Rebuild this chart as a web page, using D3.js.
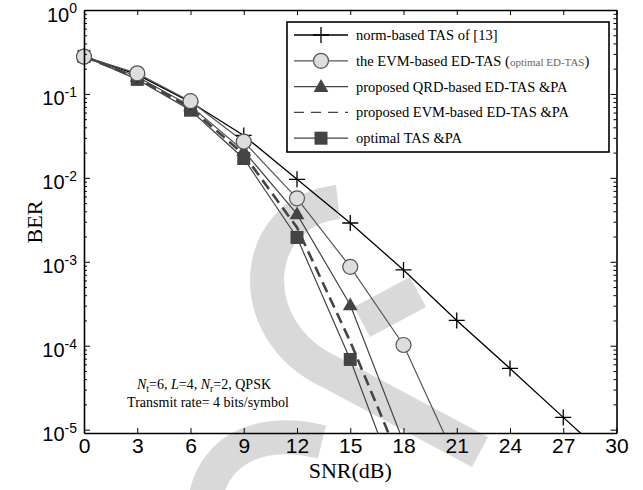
<!DOCTYPE html>
<html>
<head>
<meta charset="utf-8">
<script src="https://cdn.jsdelivr.net/npm/d3@7"></script>
<style>
  body { margin: 0; background: #fff; }
  svg { font-family: "Liberation Serif", "Times New Roman", serif; }
</style>
</head>
<body>
<div id="chart"></div>
<script>
const width = 643;
const height = 490;
const margin = {top: 10, right: 26.5, bottom: 57, left: 84};

// data
const snr = [0, 3, 6, 9, 12, 15, 18, 21, 24, 27, 30];
const normTAS = [0.28, 0.17, 0.08, 0.032, 0.0096, 0.0029, 0.0008, 0.0002, 0.0000536, 0.000014, 0.0000037];
const evmTAS = [0.278, 0.176, 0.082, 0.027, 0.0057, 0.00087, 0.000102, 0.0000042];
const qrdPA = [0.28, 0.16, 0.072, 0.021, 0.0037, 0.000305, 0.0000071];
const evmPA = [0.28, 0.155, 0.068, 0.019, 0.00256, 0.000112, 0.0000034];
const optPA = [0.28, 0.149, 0.064, 0.017, 0.00195, 0.0000686, 0.0000014];
const xTicks = [0, 3, 6, 9, 12, 15, 18, 21, 24, 27, 30];
const yTicks = [1, 1e-1, 1e-2, 1e-3, 1e-4, 1e-5];
const yExp = [0, -1, -2, -3, -4, -5];
const legendLabels = ["norm-based TAS of [13]", "the EVM-based ED-TAS ", "proposed QRD-based ED-TAS &PA",
  "proposed EVM-based ED-TAS &PA", "optimal TAS &PA"];

const svg = d3.select("#chart").append("svg")
  .attr("width", width)
  .attr("height", height);

const x = d3.scaleLinear().domain([0, 30]).range([margin.left, width - margin.right]);
const y = d3.scaleLog().domain([Math.pow(10, -5.04), 1]).range([height - margin.bottom, margin.top]);

// watermark
const wm = svg.append("g").attr("fill", "none").attr("stroke", "#d9d9d9").attr("stroke-width", 34);
wm.append("path").attr("d", "M338,202 C250,212 240,330 330,372 L480,452");
wm.append("path").attr("d", "M362,322 L418,292");
wm.append("path").attr("d", "M205,500 C215,445 265,428 322,442");

const plot = svg.append("g");
plot.append("clipPath").attr("id", "clip")
  .append("rect")
  .attr("x", margin.left).attr("y", margin.top)
  .attr("width", width - margin.left - margin.right)
  .attr("height", height - margin.top - margin.bottom);

// axes
const minorY = [];
for (let e = -6; e < 0; e++) for (let k = 2; k <= 9; k++) {
  const v = k * Math.pow(10, e);
  if (v >= y.domain()[0] && v <= 1) minorY.push(v);
}

const xAxis = svg.append("g")
  .attr("transform", `translate(0,${height - margin.bottom})`)
  .call(d3.axisBottom(x).tickValues(xTicks).tickSize(-5).tickSizeOuter(0).tickPadding(5));
xAxis.selectAll("text").style("font-size", "21px").attr("fill", "#000");

svg.append("g")
  .attr("transform", `translate(0,${margin.top})`)
  .call(d3.axisTop(x).tickValues(xTicks).tickSize(-5).tickSizeOuter(0).tickFormat(""));

const yAxis = svg.append("g")
  .attr("transform", `translate(${margin.left},0)`)
  .call(d3.axisLeft(y).tickValues(yTicks).tickSize(-6).tickSizeOuter(0).tickPadding(7).tickFormat(""));

yAxis.selectAll(".tick text").each(function(d, i) {
  const t = d3.select(this).attr("dy", "0.55em").style("font-size", "20px").attr("fill", "#000");
  t.append("tspan").text("10");
  t.append("tspan").attr("dy", "-0.6em").style("font-size", "14px").text(yExp[i]);
});

svg.append("g")
  .attr("transform", `translate(${margin.left},0)`)
  .call(d3.axisLeft(y).tickValues(minorY).tickSize(-3).tickSizeOuter(0).tickFormat(""))
  .select(".domain").remove();

svg.append("g")
  .attr("transform", `translate(${width - margin.right},0)`)
  .call(d3.axisRight(y).tickValues(yTicks).tickSize(-6).tickSizeOuter(0).tickFormat(""));
svg.append("g")
  .attr("transform", `translate(${width - margin.right},0)`)
  .call(d3.axisRight(y).tickValues(minorY).tickSize(-3).tickSizeOuter(0).tickFormat(""))
  .select(".domain").remove();

svg.selectAll(".domain").attr("stroke-width", 1.6);

// titles
svg.append("text")
  .attr("x", (margin.left + width - margin.right) / 2)
  .attr("y", 478)
  .attr("text-anchor", "middle")
  .style("font-size", "22px")
  .text("SNR(dB)");

svg.append("text")
  .attr("transform", "translate(42,222) rotate(-90)")
  .attr("text-anchor", "middle")
  .style("font-size", "22px")
  .text("BER");

// lines
const line = d3.line().x(d => x(d[0])).y(d => y(d[1]));
const pairs = arr => arr.map((v, i) => [snr[i], v]);

const lines = plot.append("g").attr("clip-path", "url(#clip)").attr("fill", "none");
lines.append("path").attr("d", line(pairs(normTAS))).attr("stroke", "#000").attr("stroke-width", 1.3);
lines.append("path").attr("d", line(pairs(evmTAS))).attr("stroke", "#555").attr("stroke-width", 1.2);
lines.append("path").attr("d", line(pairs(qrdPA))).attr("stroke", "#444").attr("stroke-width", 1.2);
lines.append("path").attr("d", line(pairs(optPA))).attr("stroke", "#444").attr("stroke-width", 1.2);
lines.append("path").attr("d", line(pairs(evmPA))).attr("stroke", "#444").attr("stroke-width", 2.6)
  .attr("stroke-dasharray", "11,6");

// markers
const inRange = arr => pairs(arr).filter(d => d[1] >= y.domain()[0]);
const marks = plot.append("g");

marks.selectAll("rect.sq").data(inRange(optPA)).enter().append("rect")
  .attr("class", "sq")
  .attr("x", d => x(d[0]) - 6.5).attr("y", d => y(d[1]) - 6.5)
  .attr("width", 13).attr("height", 13)
  .attr("fill", "#444");

const tri = d3.symbol().type(d3.symbolTriangle).size(95);
marks.selectAll("path.tri").data(inRange(qrdPA)).enter().append("path")
  .attr("class", "tri")
  .attr("transform", d => `translate(${x(d[0])},${y(d[1]) + 1})`)
  .attr("d", tri)
  .attr("fill", "#444");

const plus = "M-8,0H8M0,-8V8";
marks.selectAll("path.plus").data(inRange(normTAS)).enter().append("path")
  .attr("class", "plus")
  .attr("transform", d => `translate(${x(d[0])},${y(d[1])})`)
  .attr("d", plus)
  .attr("stroke", "#000").attr("stroke-width", 1.3);

marks.selectAll("circle").data(inRange(evmTAS)).enter().append("circle")
  .attr("cx", d => x(d[0])).attr("cy", d => y(d[1]))
  .attr("r", 7.5)
  .attr("fill", "#ddd").attr("stroke", "#555").attr("stroke-width", 1.2);

// annotation
const note = svg.append("g").style("font-size", "14px").attr("text-anchor", "middle");
const n1 = note.append("text").attr("x", 204).attr("y", 389);
n1.append("tspan").style("font-style", "italic").text("N");
n1.append("tspan").attr("dy", 3).style("font-size", "10px").text("t");
n1.append("tspan").attr("dy", -3).text("=6, ");
n1.append("tspan").style("font-style", "italic").text("L");
n1.append("tspan").text("=4, ");
n1.append("tspan").style("font-style", "italic").text("N");
n1.append("tspan").attr("dy", 3).style("font-size", "10px").text("r");
n1.append("tspan").attr("dy", -3).text("=2, QPSK");
note.append("text").attr("x", 208).attr("y", 407).text("Transmit rate= 4 bits/symbol");

// legend
const lg = svg.append("g");
lg.append("rect")
  .attr("x", 287).attr("y", 22).attr("width", 322).attr("height", 130)
  .attr("fill", "#fff").attr("stroke", "#000").attr("stroke-width", 1.6);

const rowY = i => 35 + i * 25.8;
const lx0 = 294, lx1 = 348, lm = 321, lt = 356;

lg.selectAll("text").data(legendLabels).enter().append("text")
  .attr("x", lt).attr("y", (d, i) => rowY(i) + 5)
  .style("font-size", "14.5px")
  .text(d => d);

lg.select("text:nth-of-type(2)").append("tspan").text("(")
  .append("tspan").style("font-size", "11px").attr("fill", "#666").text("optimal ED-TAS")
  .select(function() { return this.parentNode; })
  .append("tspan").text(")");

lg.append("line").attr("x1", lx0).attr("x2", lx1).attr("y1", rowY(0)).attr("y2", rowY(0))
  .attr("stroke", "#000").attr("stroke-width", 1.3);
lg.append("path").attr("transform", `translate(${lm},${rowY(0)})`).attr("d", plus)
  .attr("stroke", "#000").attr("stroke-width", 1.3);

lg.append("line").attr("x1", lx0).attr("x2", lx1).attr("y1", rowY(1)).attr("y2", rowY(1))
  .attr("stroke", "#555").attr("stroke-width", 1.2);
lg.append("circle").attr("cx", lm).attr("cy", rowY(1)).attr("r", 7.5)
  .attr("fill", "#ddd").attr("stroke", "#555").attr("stroke-width", 1.2);

lg.append("line").attr("x1", lx0).attr("x2", lx1).attr("y1", rowY(2)).attr("y2", rowY(2))
  .attr("stroke", "#444").attr("stroke-width", 1.2);
lg.append("path").attr("transform", `translate(${lm},${rowY(2) + 1})`).attr("d", tri).attr("fill", "#444");

lg.append("line").attr("x1", lx0).attr("x2", lx1).attr("y1", rowY(3)).attr("y2", rowY(3))
  .attr("stroke", "#444").attr("stroke-width", 1.4).attr("stroke-dasharray", "10,7");

lg.append("line").attr("x1", lx0).attr("x2", lx1).attr("y1", rowY(4)).attr("y2", rowY(4))
  .attr("stroke", "#444").attr("stroke-width", 1.2);
lg.append("rect").attr("x", lm - 6.5).attr("y", rowY(4) - 6.5).attr("width", 13).attr("height", 13)
  .attr("fill", "#444");
</script>
</body>
</html>
